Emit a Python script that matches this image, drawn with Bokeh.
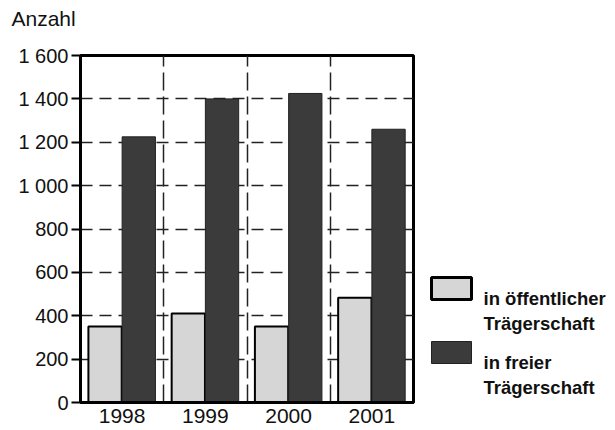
from bokeh.plotting import figure
from bokeh.layouts import row
from bokeh.models import ColumnDataSource, FixedTicker, Range1d
from bokeh.embed import file_html
from bokeh.resources import INLINE

years = ["1998", "1999", "2000", "2001"]
oeffentlich = [350, 410, 350, 483]
frei = [1225, 1400, 1425, 1260]
y_ticks = [0, 200, 400, 600, 800, 1000, 1200, 1400, 1600]
y_tick_labels = ["0", "200", "400", "600", "800", "1 000", "1 200", "1 400", "1 600"]
legend_labels = ["in öffentlicher\nTrägerschaft", "in freier\nTrägerschaft"]
y_title = "Anzahl"

FONT = "Liberation Sans"
LIGHT = "#d6d6d6"
DARK = "#3b3b3b"
TXT = "#111111"

W, H = 615, 430
W_MAIN = 420          # width of the chart part, the rest holds the legend
F_TOP, F_BOT = 55, 402  # frame top / bottom on the page

xs = list(range(len(years)))
src = ColumnDataSource(dict(
    xo=[i - 0.205 for i in xs],
    xf=[i + 0.2 for i in xs],
    oe=oeffentlich,
    fr=frei,
))

# main chart
p = figure(width=W_MAIN, height=H, output_backend="svg", toolbar_location=None,
           x_range=Range1d(-0.5, len(years) - 0.5), y_range=Range1d(0, 1600),
           min_border_left=80, min_border_right=W_MAIN - 413, min_border_top=F_TOP,
           min_border_bottom=H - F_BOT)

# axis title above the y axis (second empty line lifts it to the top of the border)
p.title.text = y_title + "\n"
p.title.align = "left"
p.title.vertical_align = "bottom"
p.title.offset = -69
p.title.standoff = 5
p.title.text_font = FONT
p.title.text_font_size = "21px"
p.title.text_font_style = "normal"
p.title.text_line_height = 1.0
p.title.text_color = TXT

p.yaxis.ticker = FixedTicker(ticks=y_ticks)
p.yaxis.major_label_overrides = dict(zip(y_ticks, y_tick_labels))
p.yaxis.axis_line_width = 3
p.yaxis.major_tick_line_width = 2
p.yaxis.major_tick_out = 9
p.yaxis.major_tick_in = 0
p.yaxis.minor_tick_line_color = None
p.yaxis.major_label_standoff = 3
p.yaxis.major_label_text_font_size = "20px"

p.xaxis.ticker = FixedTicker(ticks=xs)
p.xaxis.major_label_overrides = dict(zip(xs, years))
p.xaxis.axis_line_width = 3
p.xaxis.major_tick_line_color = None
p.xaxis.minor_tick_line_color = None
p.xaxis.major_label_standoff = 0
p.xaxis.major_label_text_font_size = "21px"

for ax in (p.xaxis, p.yaxis):
    ax.major_label_text_font = FONT
    ax.major_label_text_color = TXT
    ax.axis_line_color = "black"

p.ygrid.ticker = FixedTicker(ticks=y_ticks[1:-1])
p.ygrid.grid_line_color = "#222222"
p.ygrid.grid_line_dash = "12 7"
p.ygrid.grid_line_width = 1.5
p.xgrid.ticker = FixedTicker(ticks=[i + 0.5 for i in xs[:-1]])
p.xgrid.grid_line_color = "#222222"
p.xgrid.grid_line_dash = "18 6"
p.xgrid.grid_line_width = 1.5

p.outline_line_color = "black"
p.outline_line_width = 3

p.vbar(x="xo", top="oe", width=0.4, source=src,
       fill_color=LIGHT, line_color="black", line_width=2)
p.vbar(x="xf", top="fr", width=0.4, source=src,
       fill_color=DARK, line_color="#222222", line_width=1)

# legend panel: same frame rows as the chart, coordinates = page pixels (y downwards)
lg = figure(width=W - W_MAIN, height=H, output_backend="svg", toolbar_location=None,
            x_range=Range1d(W_MAIN, W), y_range=Range1d(F_BOT, F_TOP),
            x_axis_location=None, y_axis_location=None,
            min_border_left=0, min_border_right=0, min_border_top=F_TOP,
            min_border_bottom=H - F_BOT)
lg.grid.visible = False
lg.outline_line_color = None

first_baseline = 298
item_pitch = 64
line_pitch = 24.5
sw_left, sw_w = 431, 40
text_x = 483

sw_top, sw_bot, tx, ty, tt = [], [], [], [], []
for k, lab in enumerate(legend_labels):
    b = first_baseline + k * item_pitch
    sw_top.append(b - 21)
    sw_bot.append(b + 1)
    for j, line in enumerate(lab.split("\n")):
        tx.append(text_x)
        ty.append(b + j * line_pitch)
        tt.append(line)

lg.quad(left=[sw_left] * 2, right=[sw_left + sw_w] * 2, top=sw_top, bottom=sw_bot,
        fill_color=[LIGHT, DARK], line_color=["black", "#222222"], line_width=[3, 1])
lg.text(x=tx, y=ty, text=tt, text_font={"value": FONT}, text_font_size={"value": "18.5px"},
        text_font_style="bold", text_color=TXT, text_baseline="alphabetic",
        text_align="left")

layout = row(p, lg, spacing=0)
open("out.html", "w").write(file_html(layout, INLINE))
